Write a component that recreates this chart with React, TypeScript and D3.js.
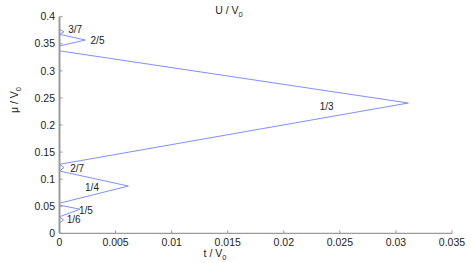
import React from "react";
import * as d3 from "d3";

const tValues = [0, 0.00036, 0, 0.00183, 0, 0, 0.00614, 0, 0.0004, 0, 0.0311, 0, 0, 0.0023, 0, 0.0004, 0];
const muValues = [0.0185, 0.0248, 0.0305, 0.0445, 0.052, 0.0555, 0.0873, 0.115, 0.1215, 0.1274, 0.2406, 0.337, 0.346, 0.357, 0.3675, 0.372, 0.377];
const labelTexts = ["1/6", "1/5", "1/4", "2/7", "1/3", "2/5", "3/7"];
const labelT = [0.00064, 0.00174, 0.00228, 0.00095, 0.0232, 0.00277, 0.00078];
const labelMu = [0.0186, 0.0365, 0.0785, 0.1135, 0.2285, 0.3505, 0.3705];
const xTicks = [0, 0.005, 0.01, 0.015, 0.02, 0.025, 0.03, 0.035];
const xTickLabels = ["0", "0.005", "0.01", "0.015", "0.02", "0.025", "0.03", "0.035"];
const yTicks = [0, 0.05, 0.1, 0.15, 0.2, 0.25, 0.3, 0.35, 0.4];
const yTickLabels = ["0", "0.05", "0.1", "0.15", "0.2", "0.25", "0.3", "0.35", "0.4"];

export default function App() {
  const W = 471, H = 263;
  const x = d3.scaleLinear().domain([0, 0.035]).range([59.5, 452]);
  const y = d3.scaleLinear().domain([0, 0.4]).range([233.3, 16.7]);
  const pts = tValues.map((t, i) => [t, muValues[i]] as [number, number]);
  const line = d3.line<[number, number]>().x(d => x(d[0])).y(d => y(d[1]));
  const font = "Arial, 'Liberation Sans', Helvetica, sans-serif";
  const axisColor = "#9a9a9a";
  const textColor = "#222";
  return (
    <svg width={W} height={H} style={{ position: "absolute", left: 0, top: 0, background: "#fff" }} fontFamily={font}>
      <rect x={0} y={0} width={W} height={H} fill="#fff" />
      <path d={line(pts) || ""} fill="none" stroke="#8090ff" strokeWidth={1} />
      <line x1={x(0)} x2={x(0)} y1={y(0.4)} y2={y(0)} stroke={axisColor} strokeWidth={2} />
      <line x1={x(0)} x2={x(0.035)} y1={y(0)} y2={y(0)} stroke={axisColor} strokeWidth={1.2} />
      {xTicks.map((t, i) => (
        <g key={"x" + i}>
          <line x1={x(t)} x2={x(t)} y1={y(0)} y2={y(0) - 3} stroke={axisColor} strokeWidth={1} />
          <text x={x(t)} y={246} textAnchor="middle" fontSize={10.5} fill={textColor}>{xTickLabels[i]}</text>
        </g>
      ))}
      {yTicks.map((v, i) => (
        <g key={"y" + i}>
          <line x1={x(0)} x2={x(0) + 3} y1={y(v)} y2={y(v)} stroke={axisColor} strokeWidth={1} />
          <text x={55} y={y(v) + 3.7} textAnchor="end" fontSize={10.5} fill={textColor}>{yTickLabels[i]}</text>
        </g>
      ))}
      {labelTexts.map((s, i) => (
        <text key={"l" + i} x={x(labelT[i])} y={y(labelMu[i])} fontSize={10} fill={textColor}>{s}</text>
      ))}
      <text x={229} y={14} textAnchor="middle" fontSize={10.5} fill={textColor}>
        U / V<tspan fontSize={7.5} dy={3}>0</tspan>
      </text>
      <text x={215} y={257} textAnchor="middle" fontSize={10.5} fill={textColor}>
        t / V<tspan fontSize={7.5} dy={3}>0</tspan>
      </text>
      <text transform="translate(18,100) rotate(-90)" textAnchor="middle" fontSize={10.5} fill={textColor}>
        μ / V<tspan fontSize={7.5} dy={3}>0</tspan>
      </text>
    </svg>
  );
}
